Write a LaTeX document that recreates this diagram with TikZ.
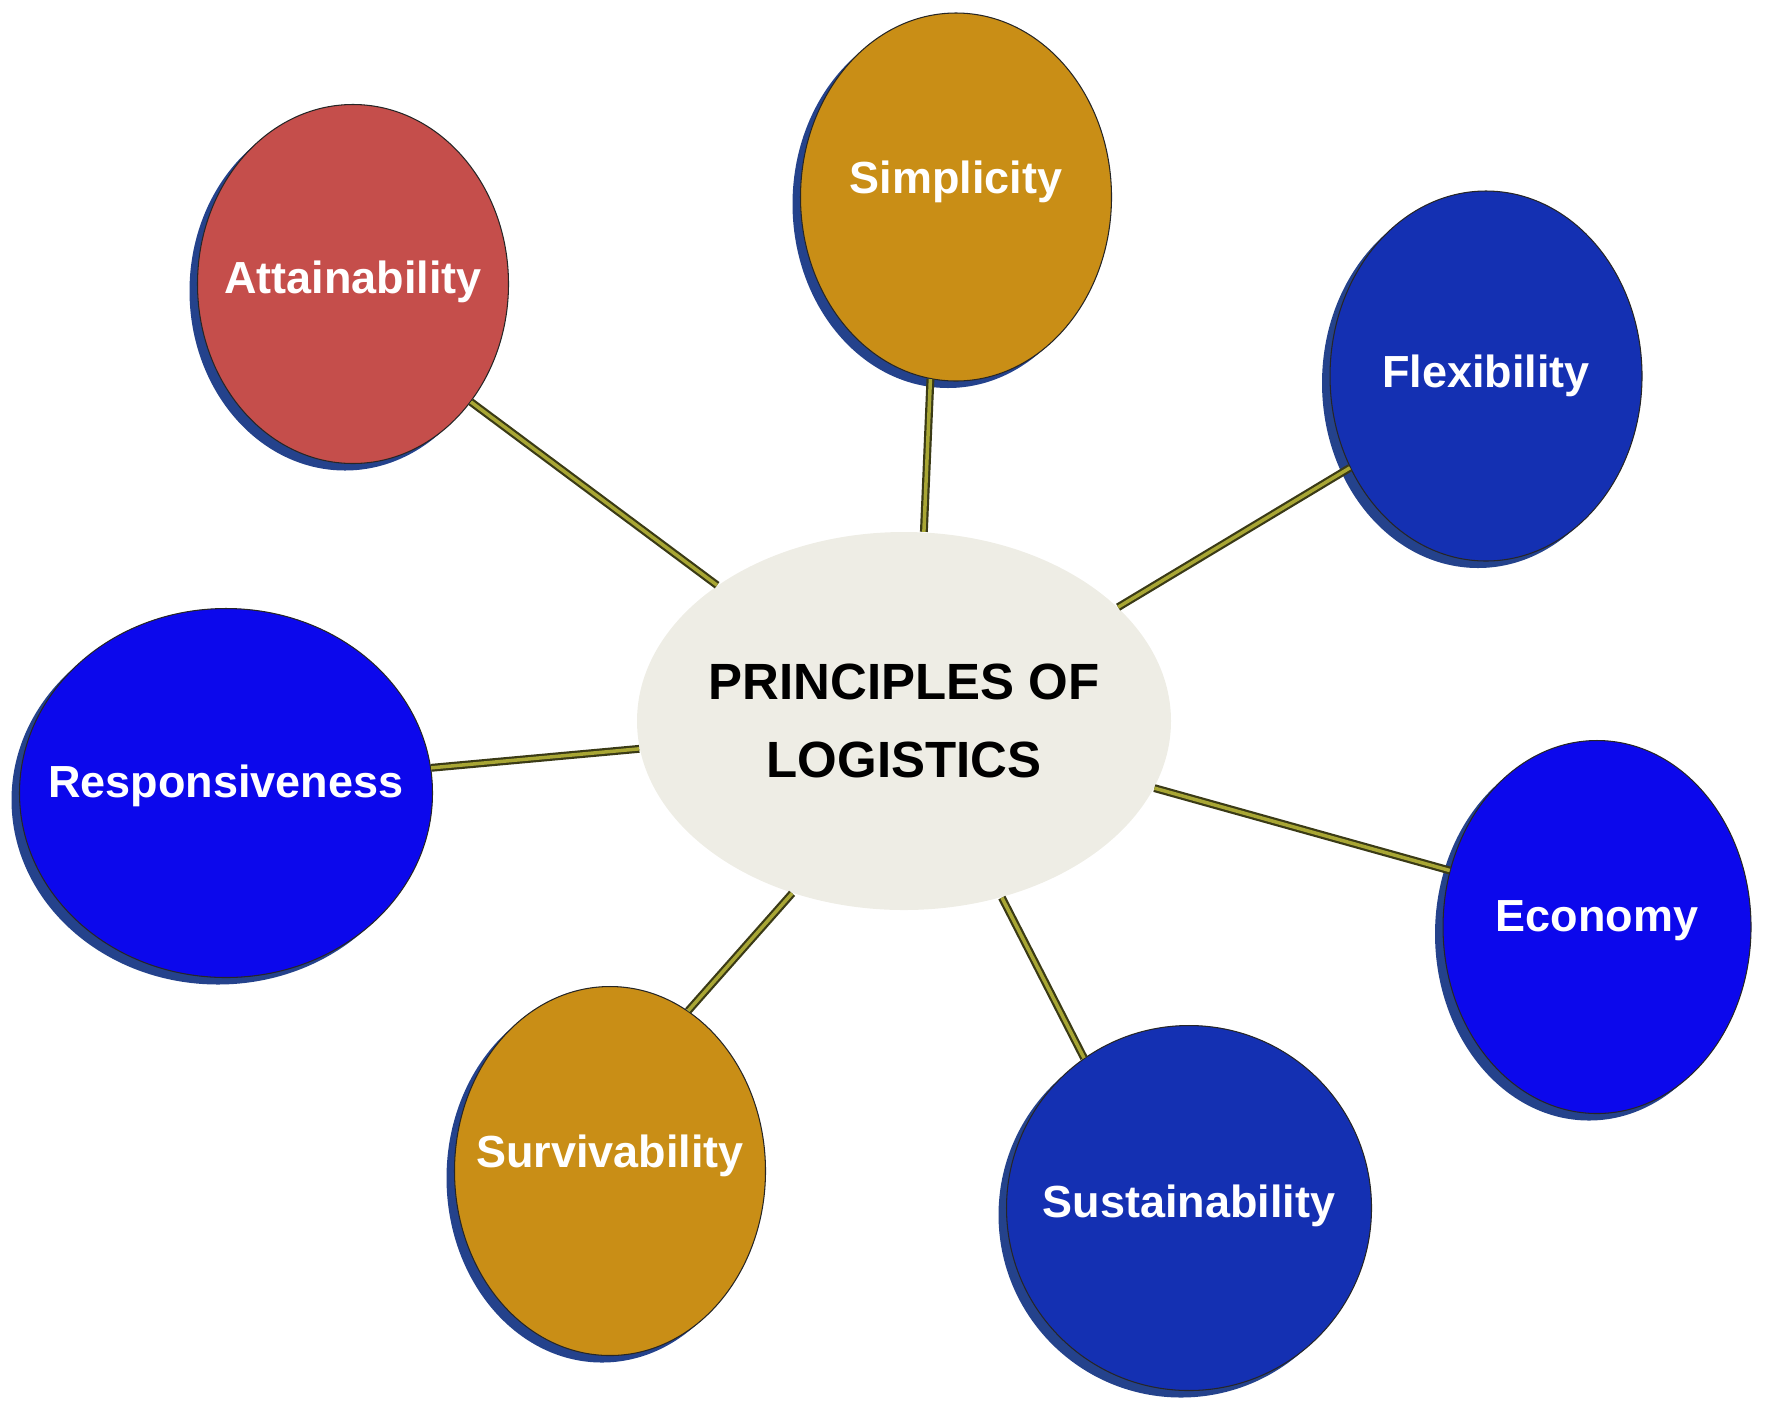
\documentclass[tikz,border=0pt]{standalone}
\usepackage{fontspec}
\setmainfont{Liberation Sans}
\usetikzlibrary{shapes.geometric,shadows}
\definecolor{redball}{RGB}{197,78,75}
\definecolor{goldball}{RGB}{201,142,22}
\definecolor{blueball}{RGB}{12,8,236}
\definecolor{navyball}{RGB}{20,48,178}
\definecolor{ballshadow}{RGB}{36,66,140}
\definecolor{hubfill}{RGB}{238,237,229}
\definecolor{ropeout}{RGB}{58,58,22}
\definecolor{ropein}{RGB}{168,166,52}
\begin{document}
\begin{tikzpicture}[x=0.1mm,y=-0.1mm,
	ball/.style={ellipse,draw=black!85,line width=0.3pt,text=white,inner xsep=-10mm,inner ysep=0pt,text depth=2.6mm,
		font=\fontsize{12.8}{15}\selectfont\bfseries,
		drop shadow={shadow xshift=-0.8mm,shadow yshift=-0.7mm,fill=ballshadow,opacity=1}},
	hub/.style={ellipse,fill=hubfill,inner xsep=-8mm,minimum width=53.4mm,minimum height=37.8mm,align=center,
		font=\fontsize{14.5}{22}\selectfont\bfseries},
	rope/.style={draw=ropeout,line width=0.22mm,double=ropein,double distance=0.35mm}]
		\useasboundingbox (0,0) rectangle (1766,1404);
		% centre
		\node[hub] (hub) at (904,721) {PRINCIPLES OF\\LOGISTICS};
		% the seven principles
		\node[ball,fill=redball,minimum width=31.1mm,minimum height=35.9mm,text depth=1.4mm] (attain) at (353,284) {Attainability};
		\node[ball,fill=goldball,minimum width=31.1mm,minimum height=36.8mm,text depth=4mm] (simpl) at (956,197) {Simplicity};
		\node[ball,fill=navyball,minimum width=31.2mm,minimum height=37mm,text depth=1mm] (flex) at (1486,376) {Flexibility};
		\node[ball,fill=blueball,minimum width=41.3mm,minimum height=36.9mm,text depth=2.4mm] (respo) at (226,793) {Responsiveness};
		\node[ball,fill=blueball,minimum width=30.8mm,minimum height=37.3mm,text depth=2.2mm] (econ) at (1597,927) {Economy};
		\node[ball,fill=goldball,minimum width=31.1mm,minimum height=36.9mm,text depth=4mm] (surv) at (610,1171) {Survivability};
		\node[ball,fill=navyball,minimum width=36.5mm,minimum height=36.5mm,text depth=1.4mm] (sust) at (1189,1208) {Sustainability};
		% connectors
		\draw[rope] (attain.-45) -- (hub.144);
		\draw[rope] (simpl.262) -- (hub.84);
		\draw[rope] (flex.214) -- (hub.28);
		\draw[rope] (respo.7) -- (hub.186);
		\draw[rope] (econ.159) -- (hub.-15);
		\draw[rope] (surv.64) -- (hub.237);
		\draw[rope] (sust.125) -- (hub.-61);
\end{tikzpicture}
\end{document}
